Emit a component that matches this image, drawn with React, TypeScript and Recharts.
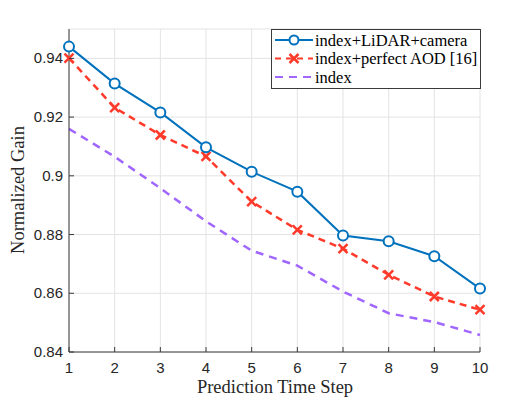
import {
  CartesianGrid,
  Legend,
  Line,
  LineChart,
  XAxis,
  YAxis,
} from "recharts";

const steps = [1, 2, 3, 4, 5, 6, 7, 8, 9, 10];
const lidarCamera = [0.944, 0.9314, 0.9216, 0.9097, 0.9014, 0.8946, 0.8797, 0.8777, 0.8726, 0.8616];
const perfectAod = [0.9401, 0.9232, 0.9139, 0.9066, 0.8912, 0.8816, 0.8752, 0.8663, 0.8589, 0.8544];
const indexOnly = [0.916, 0.9065, 0.8958, 0.8845, 0.8745, 0.8694, 0.8606, 0.8532, 0.8502, 0.8458];
const yTicks = [0.84, 0.86, 0.88, 0.9, 0.92, 0.94];

const data = steps.map((s, i) => ({
  step: s,
  lidar: lidarCamera[i],
  aod: perfectAod[i],
  index: indexOnly[i],
}));

const BLUE = "#0072bd";
const RED = "#ff3a2a";
const PURPLE = "#a066ff";
const AXIS = "#3a3a3a";
const SERIF = "'Liberation Serif', 'DejaVu Serif', serif";
const SANS = "'Liberation Sans', Arial, sans-serif";

const TICK_IN = 5;

function XTick(props: any) {
  const { x, y, payload } = props;
  // tickSize is 0, so y = axis + tickMargin
  const axisY = y - 10;
  return (
    <g>
      <line x1={x} y1={axisY} x2={x} y2={axisY - TICK_IN} stroke={AXIS} />
      <text x={x} y={axisY + 21} textAnchor="middle" fontFamily={SANS} fontSize={15} fill="#262626">
        {payload.value}
      </text>
    </g>
  );
}

function YTick(props: any) {
  const { x, y, payload } = props;
  const axisX = x + 6;
  return (
    <g>
      <line x1={axisX} y1={y} x2={axisX + TICK_IN} y2={y} stroke={AXIS} />
      <text x={axisX - 6} y={y + 5} textAnchor="end" fontFamily={SANS} fontSize={15} fill="#262626">
        {payload.value}
      </text>
    </g>
  );
}

function TopTick(props: any) {
  const { x, y } = props;
  return <line x1={x} y1={y} x2={x} y2={y + TICK_IN} stroke={AXIS} />;
}

function RightTick(props: any) {
  const { x, y } = props;
  return <line x1={x} y1={y} x2={x - TICK_IN} y2={y} stroke={AXIS} />;
}

function CrossDot(props: any) {
  const { cx, cy } = props;
  if (cx == null || cy == null) return null;
  const d = 4.5;
  return (
    <g>
      <line x1={cx - d} y1={cy - d} x2={cx + d} y2={cy + d} stroke={RED} strokeWidth={2.5} />
      <line x1={cx - d} y1={cy + d} x2={cx + d} y2={cy - d} stroke={RED} strokeWidth={2.5} />
    </g>
  );
}

function YLabel() {
  return (
    <text
      x={18}
      y={190}
      transform="rotate(-90 18 190)"
      textAnchor="middle"
      dominantBaseline="central"
      fontFamily={SERIF}
      fontSize={18.5}
      fill="#262626"
    >
      Normalized Gain
    </text>
  );
}

function XLabel() {
  return (
    <text x={275} y={393} textAnchor="middle" fontFamily={SERIF} fontSize={18.5} fill="#262626">
      Prediction Time Step
    </text>
  );
}

const legendItems = [
  { label: "index+LiDAR+camera", color: BLUE, dash: undefined, marker: "o" },
  { label: "index+perfect AOD [16]", color: RED, dash: "6 5", marker: "x" },
  { label: "index", color: PURPLE, dash: "8 6", marker: "" },
];

function LegendBox() {
  return (
    <svg width={210} height={60} style={{ display: "block" }}>
      <rect x={0.5} y={0.5} width={209} height={59} fill="#fff" stroke={AXIS} />
      {legendItems.map((it, i) => {
        const cy = 11 + i * 18.5;
        return (
          <g key={it.label}>
            <line x1={4} y1={cy} x2={42} y2={cy} stroke={it.color} strokeWidth={2} strokeDasharray={it.dash} />
            {it.marker === "o" && <circle cx={23} cy={cy} r={4.5} fill="#fff" stroke={it.color} strokeWidth={2} />}
            {it.marker === "x" && <CrossDot cx={23} cy={cy} />}
            <text x={44} y={cy + 5.5} fontFamily={SERIF} fontSize={16.5} fill="#000">
              {it.label}
            </text>
          </g>
        );
      })}
    </svg>
  );
}

export default function App() {
  return (
    <div style={{ position: "absolute", left: 0, top: 0, width: 532, height: 398, background: "#fff" }}>
      <LineChart width={532} height={398} data={data} margin={{ top: 29, right: 52, left: 0, bottom: 0 }}>
        <CartesianGrid stroke="#e3e3e3" strokeWidth={1} />
        <XAxis
          dataKey="step"
          type="number"
          domain={[1, 10]}
          ticks={steps}
          height={46}
          tickSize={0}
          tickMargin={10}
          tick={<XTick />}
          stroke={AXIS}
          tickLine={false}
          label={<XLabel />}
        />
        <XAxis
          xAxisId="top"
          orientation="top"
          type="number"
          domain={[1, 10]}
          ticks={steps}
          height={0}
          tickSize={0}
          tickMargin={0}
          tick={<TopTick />}
          tickLine={false}
          stroke={AXIS}
        />
        <YAxis
          type="number"
          domain={[0.84, 0.95]}
          ticks={yTicks}
          width={69}
          tickSize={0}
          tickMargin={6}
          tick={<YTick />}
          tickLine={false}
          stroke={AXIS}
          allowDataOverflow
          label={<YLabel />}
        />
        <YAxis
          yAxisId="right"
          orientation="right"
          type="number"
          domain={[0.84, 0.95]}
          ticks={yTicks}
          width={0}
          tickSize={0}
          tickMargin={0}
          tick={<RightTick />}
          tickLine={false}
          stroke={AXIS}
        />
        <Legend
          layout="vertical"
          align="center"
          verticalAlign="middle"
          content={() => <LegendBox />}
          wrapperStyle={{ top: 29, left: 271, width: 210, height: 60 }}
        />
        <Line
          dataKey="index"
          name="index"
          stroke={PURPLE}
          strokeWidth={2.5}
          strokeDasharray="8 6"
          dot={false}
          isAnimationActive={false}
        />
        <Line
          dataKey="aod"
          name="index+perfect AOD [16]"
          stroke={RED}
          strokeWidth={2.5}
          strokeDasharray="7 5"
          dot={<CrossDot />}
          isAnimationActive={false}
        />
        <Line
          dataKey="lidar"
          name="index+LiDAR+camera"
          stroke={BLUE}
          strokeWidth={2}
          dot={{ r: 5, fill: "#fff", stroke: BLUE, strokeWidth: 2 }}
          isAnimationActive={false}
        />
      </LineChart>
    </div>
  );
}
